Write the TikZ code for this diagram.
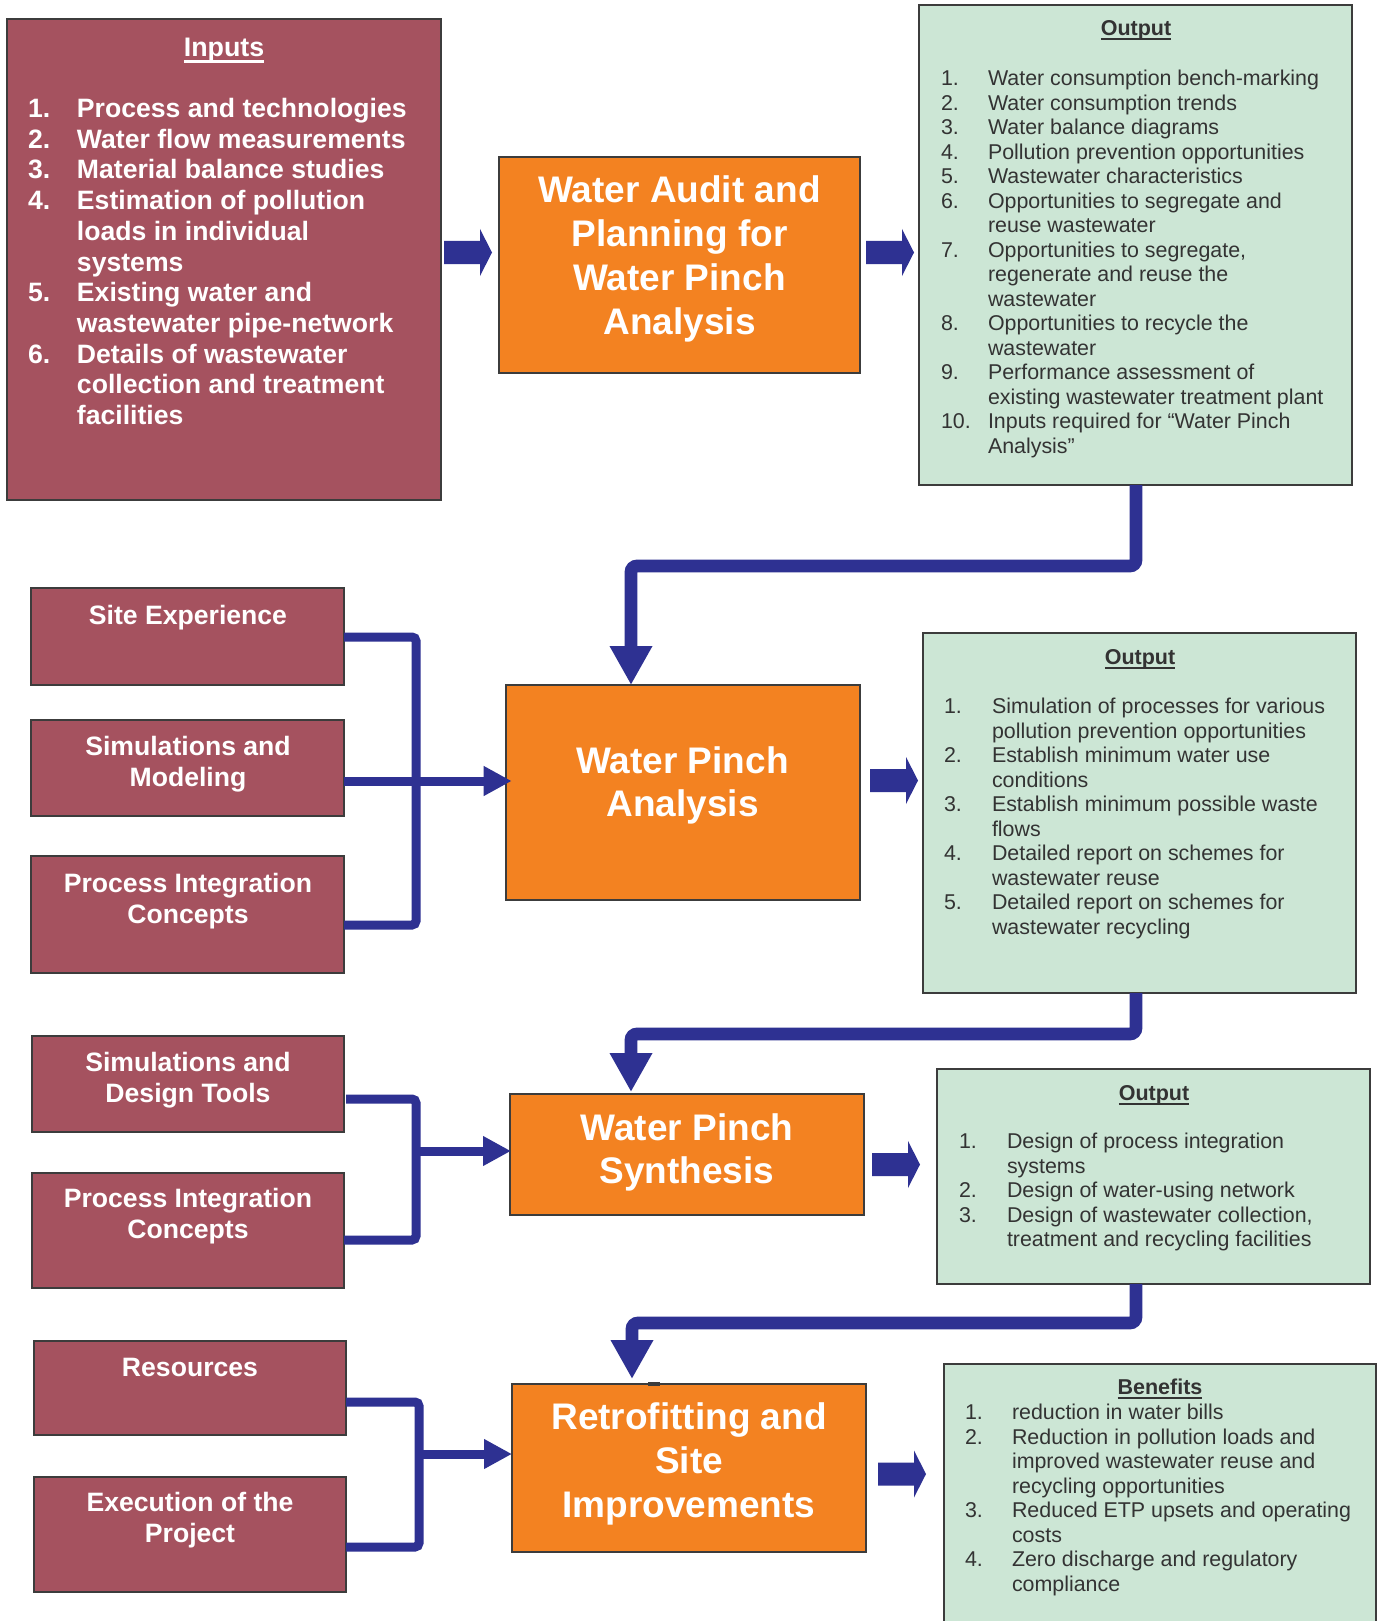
\documentclass[tikz,border=0pt]{standalone}
\usepackage{fontspec}
\setmainfont{Liberation Sans}
\usetikzlibrary{arrows.meta,calc}
\definecolor{maroon}{HTML}{A5525F}
\definecolor{orng}{HTML}{F38221}
\definecolor{grn}{HTML}{CCE6D5}
\definecolor{arrowblue}{HTML}{2E3192}
\definecolor{bordergray}{HTML}{3C3C3C}
\definecolor{txtgray}{HTML}{333333}
\newsavebox\ulbox
\newcommand\myul[3]{\sbox\ulbox{#3}\rlap{\rule[#1]{\wd\ulbox}{#2}}\usebox\ulbox}
\newcommand\mkbox[6]{\node[#2, anchor=north west, minimum width={(#5-#3)/2}, minimum height={(#6-#4)/2}] (#1) at (#3,#4) {};}
\newcommand\blockarrow[2]{\fill[arrowblue] (#1,{#2-11.5}) -- ({#1+36},{#2-11.5}) -- ({#1+36},{#2-23.5}) -- ({#1+48},#2) -- ({#1+36},{#2+23.5}) -- ({#1+36},{#2+11.5}) -- (#1,{#2+11.5}) -- cycle;}
\begin{document}
\begin{tikzpicture}[x=0.5pt,y=-0.5pt,
  bx/.style={draw=bordergray, line width=1pt, inner sep=0pt, outer sep=0pt},
  inbox/.style={bx, fill=maroon},
  orbox/.style={bx, fill=orng},
  grbox/.style={bx, fill=grn},
  tnode/.style={inner sep=0pt, outer sep=0pt},
  inlist/.style={tnode, anchor=north west, text=white, font={\fontsize{13.3pt}{15.35pt}\selectfont\bfseries}},
  sidetxt/.style={tnode, anchor=north, text=white, font={\fontsize{13.3pt}{15.5pt}\selectfont\bfseries}},
  ortxt/.style={tnode, anchor=north, text=white, font={\fontsize{18.5pt}{21.9pt}\selectfont\bfseries}},
  grlist/.style={tnode, anchor=north west, text=txtgray, font={\fontsize{10.7pt}{12.25pt}\selectfont}},
  grtitle/.style={tnode, anchor=base, text=txtgray, font={\fontsize{10.75pt}{12.25pt}\selectfont\bfseries}},
  bigarrow/.style={draw=arrowblue, line width=6.35pt, rounded corners=3pt, -{Triangle[width=20pt,length=19.5pt]}},
  smallline/.style={draw=arrowblue, line width=4.5pt, rounded corners=2pt},
  smallarrow/.style={draw=arrowblue, line width=4.5pt, -{Triangle[width=14pt,length=14pt]}}
]
\useasboundingbox (0,0) rectangle (1382,1621);
\clip (0,0) rectangle (1382,1621);
\fill[white] (0,0) rectangle (1382,1621);

% boxes
\mkbox{inp}{inbox}{7}{19}{441}{500}
\mkbox{o1}{orbox}{499}{157}{860}{373}
\mkbox{out1}{grbox}{919}{5}{1352}{485}
\mkbox{site}{inbox}{31}{588}{344}{685}
\mkbox{sim}{inbox}{31}{720}{344}{816}
\mkbox{pic}{inbox}{31}{856}{344}{973}
\mkbox{o2}{orbox}{505.7}{685}{860}{900}
\mkbox{out2}{grbox}{923}{633}{1356}{993}
\mkbox{simd}{inbox}{32}{1036}{344}{1132}
\mkbox{pic2}{inbox}{32}{1173}{344}{1288}
\mkbox{o3}{orbox}{510}{1094}{864}{1215}
\mkbox{out3}{grbox}{937}{1069}{1370}{1284}
\mkbox{res}{inbox}{34}{1341}{346}{1435}
\mkbox{exe}{inbox}{34}{1477}{346}{1592}
\mkbox{o4}{orbox}{512}{1384}{866}{1552}
\mkbox{ben}{grbox}{944}{1364}{1376}{1650}
\draw[bordergray, line width=1.6pt] (648,1384) -- (660,1384);

% block arrows
\blockarrow{444}{252.5}
\blockarrow{866}{252.5}
\blockarrow{870}{780.5}
\blockarrow{872}{1164.5}
\blockarrow{878}{1474}

% big elbow connectors
\coordinate (h1) at (1136,566);
\coordinate (k1) at (631,566);
\draw[bigarrow] (h1 |- out1.south) -- (h1) -- (k1) -- (k1 |- o2.north);
\coordinate (h2) at (1136,1034);
\coordinate (k2) at (631,1034);
\draw[bigarrow] (h2 |- out2.south) -- (h2) -- (k2) -- ($(k2 |- o3.north)+(0,-2)$);
\coordinate (h3) at (1136,1323);
\coordinate (k3) at (632,1323);
\draw[bigarrow] (h3 |- out3.south) -- (h3) -- (k3) -- ($(k3 |- o4.north)+(0,-5)$);

% side connectors
\coordinate (v2t) at (416,637);
\coordinate (v2b) at (416,925);
\coordinate (j2) at (416,781);
\draw[smallline] (site.east |- v2t) -- (v2t) -- (v2b) -- (pic.east |- v2b);
\draw[smallarrow] (sim.east |- j2) -- ($(o2.west |- j2)+(6,0)$);
\coordinate (v3t) at (416,1099);
\coordinate (v3b) at (416,1240);
\coordinate (j3) at (416,1151);
\draw[smallline] ($(simd.east |- v3t)+(2,0)$) -- (v3t) -- (v3b) -- (pic2.east |- v3b);
\draw[smallarrow] (j3) -- ($(o3.west |- j3)+(1,0)$);
\coordinate (v4t) at (419,1402);
\coordinate (v4b) at (419,1547);
\coordinate (j4) at (419,1454);
\draw[smallline] (res.east |- v4t) -- (v4t) -- (v4b) -- (exe.east |- v4b);
\draw[smallarrow] (j4) -- (o4.west |- j4);

% Inputs text
\node[tnode, anchor=base, text=white, font={\fontsize{13.4pt}{15.35pt}\selectfont\bfseries}] (tinph) at (224,56.6) {\myul{-3pt}{1.2pt}{Inputs}};
\node[inlist] (tinp) at (28,96.1) {\begin{tabular}{@{}p{24.5pt}@{}l@{}}
1. & Process and technologies\\
2. & Water flow measurements\\
3. & Material balance studies\\
4. & Estimation of pollution\\
 & loads in individual\\
 & systems\\
5. & Existing water and\\
 & wastewater pipe-network\\
6. & Details of wastewater\\
 & collection and treatment\\
 & facilities
\end{tabular}};

% orange texts
\node[ortxt] (to1) at (679.5,172) {\begin{tabular}{@{}c@{}}Water Audit and\\Planning for\\Water Pinch\\Analysis\end{tabular}};
\node[ortxt] (to2) at (682.5,742.4) {\begin{tabular}{@{}c@{}}Water Pinch\\Analysis\end{tabular}};
\node[ortxt] (to3) at (687,1109.4) {\begin{tabular}{@{}c@{}}Water Pinch\\Synthesis\end{tabular}};
\node[ortxt] (to4) at (689,1398.8) {\begin{tabular}{@{}c@{}}Retrofitting and\\Site\\Improvements\end{tabular}};

% side box texts
\node[sidetxt] (tsite) at (188,602.8) {\begin{tabular}{@{}c@{}}Site Experience\end{tabular}};
\node[sidetxt] (tsim) at (188,733.5) {\begin{tabular}{@{}c@{}}Simulations and\\Modeling\end{tabular}};
\node[sidetxt] (tpic) at (188,870.8) {\begin{tabular}{@{}c@{}}Process Integration\\Concepts\end{tabular}};
\node[sidetxt] (tsimd) at (188,1049.4) {\begin{tabular}{@{}c@{}}Simulations and\\Design Tools\end{tabular}};
\node[sidetxt] (tpic2) at (188,1185.8) {\begin{tabular}{@{}c@{}}Process Integration\\Concepts\end{tabular}};
\node[sidetxt] (tres) at (190,1354.4) {\begin{tabular}{@{}c@{}}Resources\end{tabular}};
\node[sidetxt] (texe) at (190,1489.8) {\begin{tabular}{@{}c@{}}Execution of the\\Project\end{tabular}};

% output 1
\node[grtitle] (th1) at (1136,36) {\myul{-2pt}{1pt}{Output}};
\node[grlist] (tout1) at (941,68.5) {\begin{tabular}{@{}p{23.5pt}@{}l@{}}
1. & Water consumption bench-marking\\
2. & Water consumption trends\\
3. & Water balance diagrams\\
4. & Pollution prevention opportunities\\
5. & Wastewater characteristics\\
6. & Opportunities to segregate and\\
 & reuse wastewater\\
7. & Opportunities to segregate,\\
 & regenerate and reuse the\\
 & wastewater\\
8. & Opportunities to recycle the\\
 & wastewater\\
9. & Performance assessment of\\
 & existing wastewater treatment plant\\
10. & Inputs required for “Water Pinch\\
 & Analysis”
\end{tabular}};

% output 2
\node[grtitle] (th2) at (1140,664.7) {\myul{-2pt}{1pt}{Output}};
\node[grlist] (tout2) at (944,696.5) {\begin{tabular}{@{}p{24pt}@{}l@{}}
1. & Simulation of processes for various\\
 & pollution prevention opportunities\\
2. & Establish minimum water use\\
 & conditions\\
3. & Establish minimum possible waste\\
 & flows\\
4. & Detailed report on schemes for\\
 & wastewater reuse\\
5. & Detailed report on schemes for\\
 & wastewater recycling
\end{tabular}};

% output 3
\node[grtitle] (th3) at (1154,1100.7) {\myul{-2pt}{1pt}{Output}};
\node[grlist] (tout3) at (959,1131.5) {\begin{tabular}{@{}p{24pt}@{}l@{}}
1. & Design of process integration\\
 & systems\\
2. & Design of water-using network\\
3. & Design of wastewater collection,\\
 & treatment and recycling facilities
\end{tabular}};

% benefits
\node[grtitle] (th4) at (1160,1394.7) {\myul{-2pt}{1pt}{Benefits}};
\node[grlist] (tben) at (965,1402.5) {\begin{tabular}{@{}p{23.5pt}@{}l@{}}
1. & reduction in water bills\\
2. & Reduction in pollution loads and\\
 & improved wastewater reuse and\\
 & recycling opportunities\\
3. & Reduced ETP upsets and operating\\
 & costs\\
4. & Zero discharge and regulatory\\
 & compliance
\end{tabular}};
\end{tikzpicture}
\end{document}
